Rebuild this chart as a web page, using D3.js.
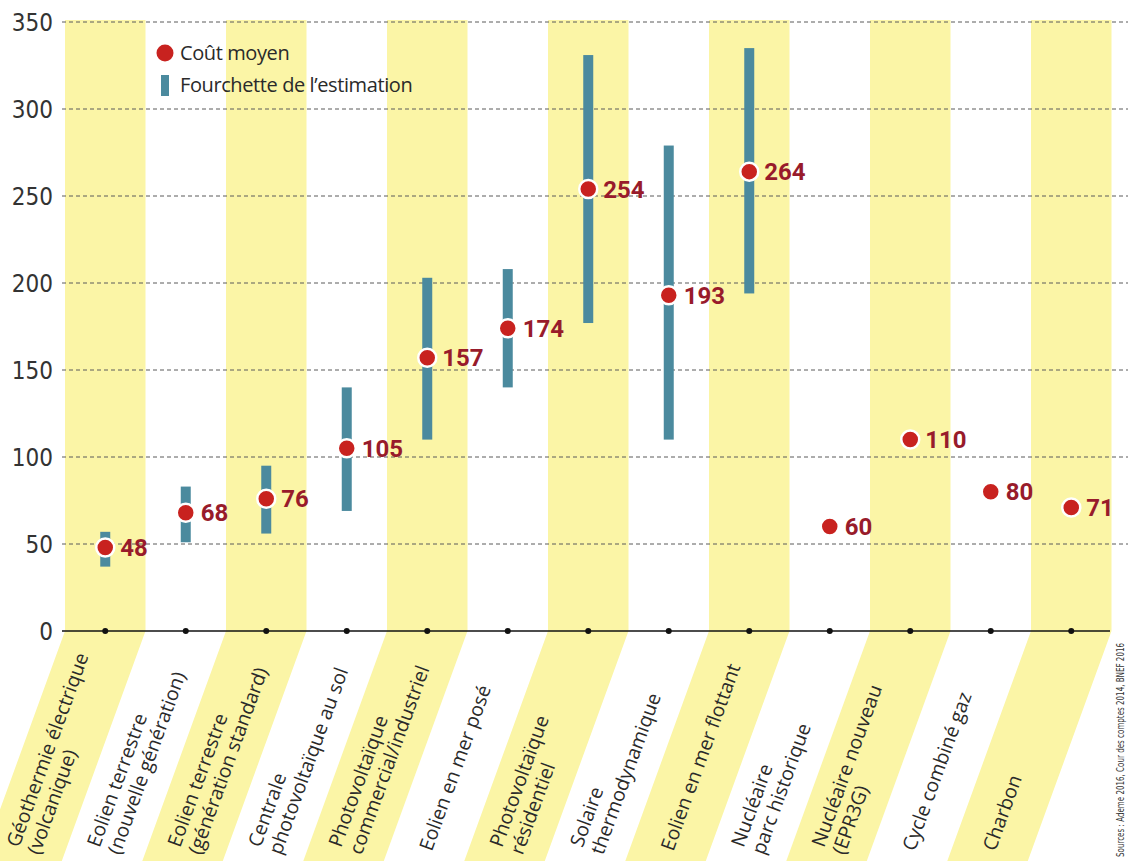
<!DOCTYPE html>
<html>
<head>
<meta charset="utf-8">
<script src="https://cdn.jsdelivr.net/npm/d3@7"></script>
<style>
  body { margin: 0; background: #fff; }
  svg { display: block; }
</style>
</head>
<body>
<div id="chart"></div>
<script>
// one entry per technology, lines of the slanted label
const categories = [
    ['Géothermie électrique', '(volcanique)'],
    ['Eolien terrestre', '(nouvelle génération)'],
    ['Eolien terrestre', '(génération standard)'],
    ['Centrale', 'photovoltaïque au sol'],
    ['Photovoltaïque', 'commercial/industriel'],
    ['Eolien en mer posé'],
    ['Photovoltaïque', 'résidentiel'],
    ['Solaire', 'thermodynamique'],
    ['Eolien en mer flottant'],
    ['Nucléaire', 'parc historique'],
    ['Nucléaire nouveau', '(EPR3G)'],
    ['Cycle combiné gaz'],
    ['Charbon']
];

const meanCost = [48, 68, 76, 105, 157, 174, 254, 193, 264, 60, 110, 80, 71];
const rangeLow = [37, 51, 56, 69, 110, 140, 177, 110, 194, null, null, null, null];
const rangeHigh = [57, 83, 95, 140, 203, 208, 331, 279, 335, null, null, null, null];

const yTicks = [0, 50, 100, 150, 200, 250, 300, 350];
const legendLabels = ['Coût moyen', 'Fourchette de l\u2019estimation'];
const sourceText = 'Sources : Ademe 2016, Cour des comptes 2014, BNEF 2016';

const W = 1128, H = 861;
const red = '#c8221f';
const darkRed = '#981b2b';
const barColor = '#4b8a9e';
const stripe = '#fbf5a6';
const labelFont = '"Open Sans", "Noto Sans", sans-serif';
const narrowFont = '"Liberation Sans Narrow", "DejaVu Sans Condensed", sans-serif';

const svg = d3.select('#chart').append('svg')
    .attr('width', W)
    .attr('height', H);

const idx = d3.range(categories.length);

const x = d3.scaleBand()
    .domain(idx)
    .range([65, 65 + 80.5 * categories.length])
    .paddingInner(0);

const y = d3.scaleLinear().domain([0, 350]).range([631, 22]);

const axisY = y(0);
const bottom = H;
const slant = (bottom - axisY) / Math.tan(70 * Math.PI / 180);

// yellow column stripes, slanting below the axis like the labels
svg.append('g')
    .selectAll('path')
    .data(idx.filter(i => i % 2 === 0))
    .join('path')
    .attr('d', i => {
        const x0 = x(i), x1 = x(i) + x.bandwidth();
        const top = y(350) - 2;
        return `M${x0},${top}L${x1},${top}L${x1},${axisY}L${x1 - slant},${bottom}L${x0 - slant},${bottom}L${x0},${axisY}Z`;
    })
    .attr('fill', stripe);

// dashed gridlines
svg.append('g')
    .selectAll('line')
    .data(yTicks.filter(d => d > 0))
    .join('line')
    .attr('x1', 62)
    .attr('x2', W)
    .attr('y1', d => y(d))
    .attr('y2', d => y(d))
    .attr('stroke', '#5a5a5a')
    .attr('stroke-width', 1)
    .attr('stroke-dasharray', '4,3');

// y tick labels
svg.append('g')
    .selectAll('text')
    .data(yTicks)
    .join('text')
    .attr('x', 53)
    .attr('y', d => y(d))
    .attr('dy', '0.36em')
    .attr('text-anchor', 'end')
    .style('font-family', narrowFont)
    .style('font-size', '24px')
    .style('fill', '#333')
    .text(d => d);

// zero axis with small dots
svg.append('line')
    .attr('x1', 62)
    .attr('x2', 1110)
    .attr('y1', axisY)
    .attr('y2', axisY)
    .attr('stroke', '#111')
    .attr('stroke-width', 1.5);

svg.append('g')
    .selectAll('circle')
    .data(idx)
    .join('circle')
    .attr('cx', i => x(i) + x.bandwidth() / 2)
    .attr('cy', axisY)
    .attr('r', 3)
    .attr('fill', '#111');

// estimate range bars
svg.append('g')
    .selectAll('rect')
    .data(idx.filter(i => rangeLow[i] != null))
    .join('rect')
    .attr('x', i => x(i) + x.bandwidth() / 2 - 5)
    .attr('width', 10)
    .attr('y', i => y(rangeHigh[i]))
    .attr('height', i => y(rangeLow[i]) - y(rangeHigh[i]))
    .attr('fill', barColor);

// mean cost dots
svg.append('g')
    .selectAll('circle')
    .data(idx)
    .join('circle')
    .attr('cx', i => x(i) + x.bandwidth() / 2)
    .attr('cy', i => y(meanCost[i]))
    .attr('r', 9)
    .attr('fill', red)
    .attr('stroke', '#fff')
    .attr('stroke-width', 2.5);

svg.append('g')
    .selectAll('text')
    .data(idx)
    .join('text')
    .attr('x', i => x(i) + x.bandwidth() / 2 + 15)
    .attr('y', i => y(meanCost[i]))
    .attr('dy', '0.36em')
    .style('font-family', 'Roboto, "Liberation Sans", sans-serif')
    .style('font-weight', 'bold')
    .style('font-size', '24px')
    .style('fill', darkRed)
    .text(i => meanCost[i]);

// slanted category labels
const lineH = 22;
const labels = svg.append('g')
    .selectAll('text')
    .data(idx)
    .join('text')
    .attr('transform', i => `translate(${x(i) + x.bandwidth() / 2 - 76},852) rotate(-70)`)
    .style('font-family', labelFont)
    .style('font-size', '19.5px')
    .style('fill', '#2a2a2a');

labels.selectAll('tspan')
    .data(i => categories[i].map((t, k, arr) => ({ t, off: (k - (arr.length - 1) / 2) * lineH })))
    .join('tspan')
    .attr('x', 0)
    .attr('y', d => d.off)
    .text(d => d.t);

// legend
const legend = svg.append('g');
legend.append('circle')
    .attr('cx', 165)
    .attr('cy', 53)
    .attr('r', 8.5)
    .attr('fill', red);
legend.append('rect')
    .attr('x', 161)
    .attr('y', 75)
    .attr('width', 8)
    .attr('height', 21)
    .attr('fill', barColor);
legend.selectAll('text')
    .data(legendLabels)
    .join('text')
    .attr('x', 180)
    .attr('y', (d, k) => 53 + k * 32)
    .attr('dy', '0.35em')
    .style('font-family', labelFont)
    .style('font-size', '20px')
    .style('letter-spacing', '-0.4px')
    .style('fill', '#2a2a2a')
    .text(d => d);

// source note, vertical on the right, squeezed to fit below the axis
svg.append('text')
    .attr('transform', 'translate(1124,857) rotate(-90)')
    .attr('text-anchor', 'start')
    .attr('textLength', 214)
    .attr('lengthAdjust', 'spacingAndGlyphs')
    .style('font-family', narrowFont)
    .style('font-size', '11px')
    .style('fill', '#333')
    .text(sourceText);
</script>
</body>
</html>
